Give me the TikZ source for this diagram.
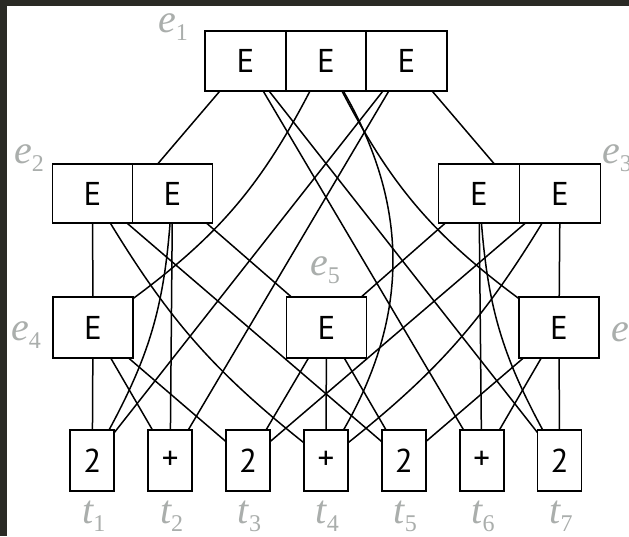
\documentclass[tikz,border=0pt]{standalone}
\usepackage{fontspec}
\newfontfamily\boxfont{PT Sans}
\newfontfamily\labfont{Liberation Serif}
\definecolor{darkbg}{RGB}{42,42,37}
\definecolor{labgray}{RGB}{170,174,172}
\newcommand{\mylab}[2]{{\labfont\itshape\fontsize{40}{44}\selectfont #1}\raisebox{-8pt}{\labfont\fontsize{24}{26}\selectfont #2}}
\tikzset{
  ebox/.style={draw, line width=1.8pt, fill=white, minimum width=80.5pt, minimum height=60pt,
    inner sep=0pt, outer sep=0pt, font=\boxfont\fontsize{33}{36}\selectfont},
  tbox/.style={draw, line width=1.8pt, fill=white, minimum width=44pt, minimum height=61pt,
    inner sep=0pt, outer sep=0pt, font=\boxfont\fontsize{33}{36}\selectfont},
  grp/.style={inner sep=0pt, outer sep=0pt},
  conn/.style={line width=1.5pt, black},
  lab/.style={text=labgray, inner sep=0pt, anchor=base west},
  tlab/.style={text=labgray, inner sep=0pt, anchor=base}
}
\begin{document}
\begin{tikzpicture}[x=1pt, y=-1pt]
\fill[darkbg] (0,0) rectangle (629,536);
\fill[white] (7,6) rectangle (629,536);
\useasboundingbox (0,0) rectangle (629,536);

% e1
\node[ebox] (L1) at (245.5,61) {E};
\node[ebox] (M1) at (326,61) {E};
\node[ebox] (R1) at (406.5,61) {E};
% e2
\node[grp, minimum width=160pt, minimum height=59pt] (e2) at (132.5,193.5) {};
\node[ebox, minimum width=80pt, minimum height=59pt] (L2) at (92.5,193.5) {E};
\node[ebox, minimum width=80pt, minimum height=59pt] (R2) at (172.5,193.5) {E};
% e3
\node[grp, minimum width=162pt, minimum height=59pt] (e3) at (519.5,193.5) {};
\node[ebox, minimum width=81pt, minimum height=59pt] (L3) at (479,193.5) {E};
\node[ebox, minimum width=81pt, minimum height=59pt] (R3) at (560,193.5) {E};
% e4 e5 e6
\node[ebox, minimum width=80pt, minimum height=61pt] (e4) at (93,327.5) {E};
\node[ebox, minimum width=80pt, minimum height=61pt] (e5) at (326.5,327.5) {E};
\node[ebox, minimum width=80pt, minimum height=61pt] (e6) at (559,327.5) {E};
% terminals
\foreach \i/\s in {1/2,2/+,3/2,4/+,5/2,6/+,7/2}{
  \node[tbox] (t\i) at ({92.3+77.87*(\i-1)},460.5) {\s};
  \node[tlab] (tl\i) at ({93.8+77.87*(\i-1)},523) {\mylab{t}{\i}};
}

% edges from e1
\draw[conn] (L1) -- (e2);
\draw[conn] (L1) -- (t6);
\draw[conn] (L1) -- (t7);
\draw[conn] (M1) to[bend left=13] (e4);
\draw[conn] (M1) to[bend left=30] (t4);
\draw[conn] (M1) to[bend right=13] (e6);
\draw[conn] (R1) -- (t1);
\draw[conn] (R1) -- (t2);
\draw[conn] (R1) -- (e3);
% edges from e2
\draw[conn] (L2) -- (e4);
\draw[conn] (L2) to[bend right=10] (t4);
\draw[conn] (L2) -- (t5);
\draw[conn] (R2) to[bend left=12] (t1);
\draw[conn] (R2) -- (t2);
\draw[conn] (R2) -- (e5);
% edges from e3
\draw[conn] (L3) -- (e5);
\draw[conn] (L3) -- (t6);
\draw[conn] (L3) to[bend right=12] (t7);
\draw[conn] (R3) -- (t3);
\draw[conn] (R3) to[bend left=10] (t4);
\draw[conn] (R3) -- (e6);
% edges from e4 e5 e6
\draw[conn] (e4) -- (t1);
\draw[conn] (e4) -- (t2);
\draw[conn] (e4) -- (t3);
\draw[conn] (e5) -- (t3);
\draw[conn] (e5) -- (t4);
\draw[conn] (e5) -- (t5);
\draw[conn] (e6) -- (t5);
\draw[conn] (e6) -- (t6);
\draw[conn] (e6) -- (t7);

% class labels
\node[lab] (le1) at (158,32) {\mylab{e}{1}};
\node[lab] (le2) at (14,163) {\mylab{e}{2}};
\node[lab] (le3) at (602,163) {\mylab{e}{3}};
\node[lab] (le4) at (11,340) {\mylab{e}{4}};
\node[lab] (le5) at (310,275) {\mylab{e}{5}};
\node[lab] (le6) at (611,341) {\mylab{e}{6}};
\end{tikzpicture}
\end{document}
